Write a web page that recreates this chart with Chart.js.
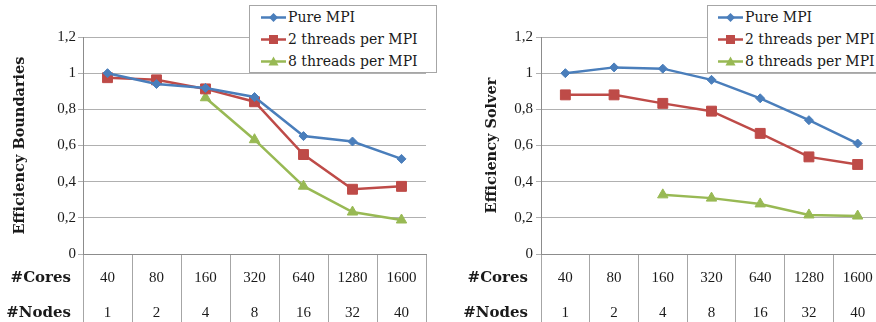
<!DOCTYPE html>
<html>
<head>
<meta charset="utf-8">
<script src="https://cdn.jsdelivr.net/npm/chart.js@4.4.1/dist/chart.umd.min.js"></script>
<style>
  body { margin:0; width:876px; height:322px; overflow:hidden; background:#fff; position:relative; }
  canvas { position:absolute; top:0; }
  .legend { position:absolute; top:5px; height:66px; background:#fff; border:1px solid #a6a6a6;
            font:14px "DejaVu Serif", serif; color:#1a1a1a; box-sizing:content-box; }
  .legend .row { height:22px; line-height:22px; white-space:nowrap; display:flex; align-items:center; }
  .legend svg { flex:none; margin-right:2px; }
</style>
</head>
<body>
<canvas id="bound" width="440" height="322" style="left:0"></canvas>
<canvas id="solver" width="440" height="322" style="left:450px"></canvas>
<div class="legend" id="legBound" style="left:249px;width:175px"></div>
<div class="legend" id="legSolver" style="left:707px;width:180px"></div>
<script>
// categories
var cores = ['40', '80', '160', '320', '640', '1280', '1600'];
var nodes = ['1', '2', '4', '8', '16', '32', '40'];
var rowNames = ['#Cores', '#Nodes'];
var seriesNames = ['Pure MPI', '2 threads per MPI', '8 threads per MPI'];

// efficiency boundaries
var boundPure = [1.0, 0.94, 0.918, 0.868, 0.652, 0.622, 0.526];
var bound2 = [0.975, 0.963, 0.913, 0.842, 0.55, 0.358, 0.374];
var bound8 = [null, null, 0.864, 0.632, 0.375, 0.232, 0.188];

// efficiency solver
var solverPure = [1.0, 1.032, 1.025, 0.963, 0.861, 0.74, 0.611];
var solver2 = [0.88, 0.88, 0.833, 0.79, 0.667, 0.537, 0.495];
var solver8 = [null, null, 0.327, 0.309, 0.277, 0.216, 0.21];

var yMin = 0, yMax = 1.2, yStep = 0.2;

var colors = ['#4a7ebb', '#be4b48', '#98b954'];
var styles = ['rectRot', 'rect', 'triangle'];
var radii = [4.5, 7, 6];

var serif = '"Liberation Serif", serif';
var boldSerif = '"DejaVu Serif", serif';

function fmt(v) {
	var r = Math.round(v * 10) / 10;
	return String(r).replace('.', ',');
}

var rowLabels = {
	id: 'rowLabels',
	afterDraw: function(chart, args, opts) {
		var ctx = chart.ctx, x = chart.scales.x;
		ctx.save();
		ctx.font = 'bold 15px ' + boldSerif;
		ctx.textAlign = 'right';
		ctx.textBaseline = 'middle';
		ctx.fillStyle = '#1a1a1a';
		ctx.fillText(rowNames[0], chart.chartArea.left - opts.gap, x.top + 24.5);
		ctx.fillText(rowNames[1], chart.chartArea.left - opts.gap, x.top + 59.5);
		ctx.restore();
	}
};

function makeChart(id, title, series, cfg) {
	var datasets = series.map(function(d, i) {
		return {
			label: seriesNames[i],
			data: d,
			borderColor: colors[i],
			backgroundColor: colors[i],
			borderWidth: 2.5,
			pointStyle: styles[i],
			pointRadius: radii[i],
			pointBorderWidth: 1,
			tension: 0
		};
	});
	return new Chart(document.getElementById(id), {
		type: 'line',
		data: {
			labels: cores.map(function(c, i) { return [c, nodes[i]]; }),
			datasets: datasets
		},
		options: {
			responsive: false,
			animation: false,
			layout: { padding: { left: 0, top: 37, right: cfg.padRight, bottom: 0 } },
			plugins: {
				legend: { display: false },
				tooltip: { enabled: false },
				rowLabels: { gap: cfg.gap }
			},
			scales: {
				x: {
					type: 'category',
					offset: true,
					grid: { offset: true, drawOnChartArea: false, drawTicks: true, tickLength: 68, color: '#a6a6a6' },
					border: { display: true, color: '#8c8c8c' },
					ticks: {
						autoSkip: false, maxRotation: 0, padding: -61.5, color: '#1a1a1a',
						font: { family: serif, size: 15, lineHeight: 35 / 15 }
					},
					afterFit: function(s) { s.height = 68; }
				},
				y: {
					min: yMin, max: yMax,
					ticks: {
						stepSize: yStep, padding: cfg.tickPad, color: '#1a1a1a',
						font: { family: serif, size: 15 },
						callback: function(v) { return fmt(v); }
					},
					grid: { color: '#b0b0b0', tickLength: 5 },
					border: { display: true, color: '#8c8c8c' },
					title: {
						display: true, text: title, color: '#1a1a1a',
						font: { family: boldSerif, size: 14.5, weight: 'bold' },
						padding: { top: cfg.titlePad, bottom: 0 }
					},
					afterFit: function(s) { s.width = cfg.axisWidth; }
				}
			}
		},
		plugins: [rowLabels]
	});
}

function icon(i) {
	var c = colors[i], m;
	if (styles[i] === 'rectRot') m = '<polygon points="12.5,2 17,6.5 12.5,11 8,6.5" fill="' + c + '"/>';
	else if (styles[i] === 'rect') m = '<rect x="8" y="2" width="9" height="9" fill="' + c + '"/>';
	else m = '<polygon points="12.5,1.5 17.5,10.5 7.5,10.5" fill="' + c + '"/>';
	return '<svg width="25" height="13"><line x1="0" y1="6.5" x2="25" y2="6.5" stroke="' + c + '" stroke-width="2.5"/>' + m + '</svg>';
}

function buildLegend(id, padLeft) {
	var el = document.getElementById(id);
	el.style.paddingLeft = padLeft + 'px';
	el.innerHTML = seriesNames.map(function(n, i) {
		return '<div class="row">' + icon(i) + '<span>' + n + '</span></div>';
	}).join('');
}

makeChart('bound', 'Efficiency Boundaries', [boundPure, bound2, bound8],
	{ padRight: 14, axisWidth: 83, tickPad: 2, titlePad: 11.8, gap: 12 });
makeChart('solver', 'Efficiency Solver', [solverPure, solver2, solver8],
	{ padRight: 6, axisWidth: 91, tickPad: 3, titlePad: 33.3, gap: 13 });
buildLegend('legBound', 11);
buildLegend('legSolver', 10);
</script>
</body>
</html>
